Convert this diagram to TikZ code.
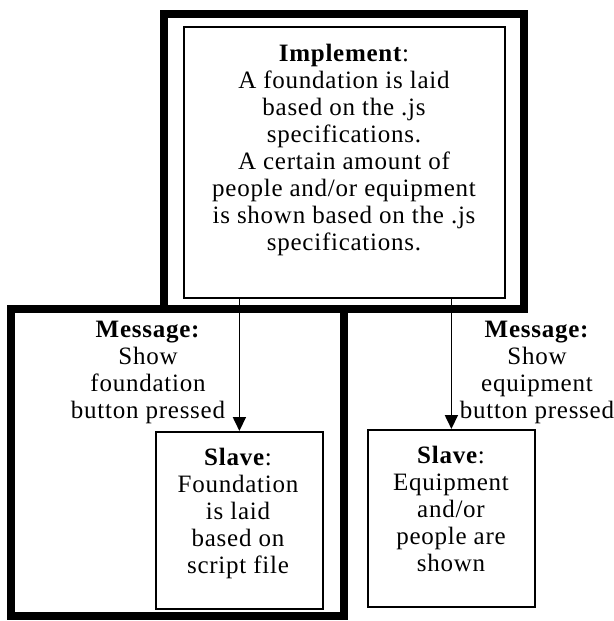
\documentclass[tikz,border=0pt]{standalone}
\usepackage{fontspec}
\setmainfont{Liberation Serif}[LetterSpace=3]
\usetikzlibrary{arrows.meta}
\begin{document}
\begin{tikzpicture}[x=1pt,y=-1pt,
  frame/.style={line width=8pt},
  box/.style={draw, line width=1.8pt, inner sep=0pt, anchor=north west},
  txt/.style={align=center, inner sep=0pt, anchor=north,
              font=\fontsize{25}{27}\selectfont},
  flow/.style={line width=1.8pt, -{Triangle[width=13pt,length=14pt]}}]
\useasboundingbox (0,0) rectangle (613,621);
% heavy outlines around the two grouped regions
\draw[frame] (164,14) rectangle (524,309);
\draw[frame] (11,309) rectangle (344,616);
% boxes
\node[box, minimum width=321pt, minimum height=271pt] (impl) at (183,26) {};
\node[box, minimum width=167pt, minimum height=177pt] (slaveL) at (155,431) {};
\node[box, minimum width=167pt, minimum height=177pt] (slaveR) at (367,429) {};
% box texts
\node[txt] (implText) at (344,44) {\textbf{Implement}:\\A foundation is laid\\based on the .js\\specifications.\\A certain amount of\\people and/or equipment\\is shown based on the .js\\specifications.};
\node[txt] (slaveLText) at (238,448) {\textbf{Slave}:\\Foundation\\is laid\\based on\\script file};
\node[txt] (slaveRText) at (451,446) {\textbf{Slave}:\\Equipment\\and/or\\people are\\shown};
% message labels
\node[txt] (msgL) at (148,321) {\textbf{Message:}\\Show\\foundation\\button pressed};
\node[txt] (msgR) at (537,321) {\textbf{Message:}\\Show\\equipment\\button pressed};
% connectors
\draw[flow] (slaveL.north |- impl.south) -- (slaveL.north);
\draw[flow] (slaveR.north |- impl.south) -- (slaveR.north);
\end{tikzpicture}
\end{document}
